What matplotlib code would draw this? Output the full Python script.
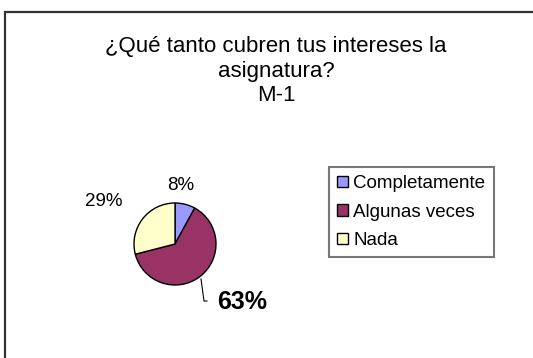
import matplotlib
matplotlib.use("Agg")
import matplotlib.pyplot as plt
from matplotlib.patches import Patch

plt.rcParams['font.family'] = ['Liberation Sans', 'DejaVu Sans']

categories = ["Completamente", "Algunas veces", "Nada"]
values = [8, 63, 29]
colors = ["#9999FF", "#993366", "#FFFFCC"]
title = "¿Qué tanto cubren tus intereses la\nasignatura?\nM-1"

W, H = 533, 358
fig = plt.figure(figsize=(W / 100, H / 100), dpi=100)
ax = fig.add_axes([0, 0, 1, 1])

wedges, _ = ax.pie(values, colors=colors, startangle=90, counterclock=False,
                   center=(175, 114), radius=41,
                   wedgeprops=dict(edgecolor="black", linewidth=1.0))
ax.set_xlim(0, W)
ax.set_ylim(0, H)
ax.set_aspect("auto")
ax.axis("off")

# outer chart border (left and top edges)
ax.plot([5, 5, W + 5], [-5, H - 12, H - 12], color="#333333", lw=1.6,
        solid_joinstyle="miter", clip_on=False)

ax.text(276, 287, title, ha="center", va="center", fontsize=16,
        linespacing=1.2)

# percentage labels
ax.text(181, 173, f"{values[0]}%", ha="center", va="center", fontsize=13.5)
ax.text(104, 157, f"{values[2]}%", ha="center", va="center", fontsize=13.5)
ax.text(242, 56, f"{values[1]}%", ha="center", va="center", fontsize=18,
        fontweight="bold")
ax.plot([201, 204, 207], [79, 57, 57], color="black", lw=0.8)

handles = [Patch(facecolor=c, edgecolor="black", linewidth=1.0) for c in colors]
leg = ax.legend(handles, categories, loc="upper left",
                bbox_to_anchor=(329 / W, 191 / H), fontsize=13.5,
                frameon=True, fancybox=False, shadow=False,
                handlelength=0.55, handleheight=0.55, handletextpad=0.3,
                labelspacing=0.6, borderpad=0.45, borderaxespad=0)
leg.get_frame().set_edgecolor("#555555")
leg.get_frame().set_linewidth(1.5)

fig.savefig("out.png", dpi=100, facecolor="white")
